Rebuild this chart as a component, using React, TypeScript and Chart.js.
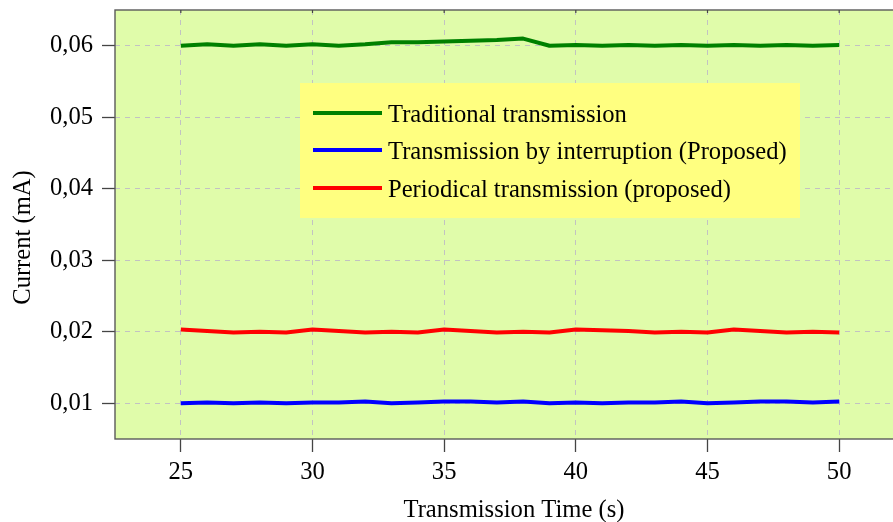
import { useEffect, useRef } from 'react';
import { Chart, registerables } from 'chart.js';

Chart.register(...registerables);

const seconds = [25, 26, 27, 28, 29, 30, 31, 32, 33, 34, 35, 36, 37, 38, 39, 40, 41, 42, 43, 44, 45, 46, 47, 48, 49, 50];
const traditional = [0.06, 0.0602, 0.06, 0.0602, 0.06, 0.0602, 0.06, 0.0602, 0.0605, 0.0605, 0.0606, 0.0607, 0.0608, 0.061, 0.06, 0.0601, 0.06, 0.0601, 0.06, 0.0601, 0.06, 0.0601, 0.06, 0.0601, 0.06, 0.0601];
const interruption = [0.01, 0.01012, 0.01, 0.01012, 0.01, 0.01012, 0.01012, 0.01024, 0.01, 0.01012, 0.01024, 0.01024, 0.01012, 0.01024, 0.01, 0.01012, 0.01, 0.01012, 0.01012, 0.01024, 0.01, 0.01012, 0.01024, 0.01024, 0.01012, 0.01024];
const periodical = [0.0203, 0.0201, 0.0199, 0.02, 0.0199, 0.0203, 0.0201, 0.0199, 0.02, 0.0199, 0.0203, 0.0201, 0.0199, 0.02, 0.0199, 0.0203, 0.0202, 0.0201, 0.0199, 0.02, 0.0199, 0.0203, 0.0201, 0.0199, 0.02, 0.0199];
const seriesLabels = ['Traditional transmission', 'Transmission by interruption (Proposed)', 'Periodical transmission (proposed)'];
const xTickValues = [25, 30, 35, 40, 45, 50];
const yTickValues = [0.01, 0.02, 0.03, 0.04, 0.05, 0.06];
const xTitle = 'Transmission Time (s)';
const yTitle = 'Current (mA)';

const FONT = "'Liberation Serif', 'Times New Roman', serif";
const FS = 24.6;

const toPoints = (ys: number[]) => seconds.map((x, i) => ({ x, y: ys[i] }));

const decorPlugin = {
  id: 'decor',
  beforeDraw(chart: any) {
    const { ctx, chartArea: ca } = chart;
    ctx.save();
    ctx.fillStyle = '#e0fcaa';
    ctx.fillRect(ca.left, ca.top, ca.right - ca.left, ca.bottom - ca.top);
    ctx.restore();
  },
  afterDraw(chart: any) {
    const { ctx, chartArea: ca } = chart;
    const xs = chart.scales.x;
    ctx.save();
    // frame
    ctx.strokeStyle = '#5a5a5a';
    ctx.lineWidth = 1.4;
    ctx.strokeRect(ca.left, ca.top, ca.right - ca.left, ca.bottom - ca.top);
    // small inner ticks on top border
    ctx.lineWidth = 1.2;
    ctx.strokeStyle = '#444';
    xTickValues.forEach((v) => {
      const px = xs.getPixelForValue(v);
      ctx.beginPath();
      ctx.moveTo(px, ca.top);
      ctx.lineTo(px, ca.top + 3);
      ctx.stroke();
    });
    // legend
    const bx = ca.left + 185;
    const by = ca.top + 73;
    ctx.fillStyle = '#ffff80';
    ctx.fillRect(bx, by, 500, 135);
    const rows = [30, 67, 105];
    ctx.font = `${FS}px ${FONT}`;
    ctx.textBaseline = 'middle';
    ctx.textAlign = 'left';
    chart.data.datasets.forEach((ds: any, i: number) => {
      const y = by + rows[i];
      ctx.strokeStyle = ds.borderColor;
      ctx.lineWidth = 4;
      ctx.beginPath();
      ctx.moveTo(bx + 13, y);
      ctx.lineTo(bx + 82, y);
      ctx.stroke();
      ctx.fillStyle = '#000';
      ctx.fillText(ds.label, bx + 88, y + 3);
    });
    // axis titles
    ctx.fillStyle = '#000';
    ctx.textBaseline = 'alphabetic';
    ctx.textAlign = 'center';
    ctx.fillText(xTitle, 514, 517);
    ctx.translate(30, 237.5);
    ctx.rotate(-Math.PI / 2);
    ctx.fillText(yTitle, 0, 0);
    ctx.restore();
  },
};

export default function App() {
  const canvasRef = useRef<HTMLCanvasElement | null>(null);

  useEffect(() => {
    document.body.style.margin = '0';
    document.documentElement.style.overflow = 'hidden';
    if (!canvasRef.current) return;
    const gridCommon = {
      color: '#c2c2c2',
      lineWidth: 1,
      tickLength: 13,
      tickColor: '#444',
      tickWidth: 1.3,
      drawTicks: true,
    };
    const chart = new Chart(canvasRef.current, {
      type: 'line',
      data: {
        datasets: [
          { label: seriesLabels[0], data: toPoints(traditional), borderColor: '#008000', backgroundColor: '#008000' },
          { label: seriesLabels[1], data: toPoints(interruption), borderColor: '#0000ff', backgroundColor: '#0000ff' },
          { label: seriesLabels[2], data: toPoints(periodical), borderColor: '#ff0000', backgroundColor: '#ff0000' },
        ],
      },
      options: {
        animation: false,
        responsive: true,
        maintainAspectRatio: false,
        layout: { padding: { top: 10, right: 15, left: 0, bottom: 0 } },
        elements: {
          line: { borderWidth: 4, tension: 0, borderJoinStyle: 'round' },
          point: { radius: 0, hoverRadius: 0 },
        },
        plugins: {
          legend: { display: false },
          tooltip: { enabled: false },
          title: { display: false },
        },
        scales: {
          x: {
            type: 'linear',
            min: 22.5,
            max: 52.5,
            grid: gridCommon,
            border: { display: false, dash: [5, 5] },
            ticks: {
              color: '#000',
              padding: 6,
              font: { family: FONT, size: FS },
              callback: (v: any) => String(v),
            },
            afterBuildTicks: (scale: any) => {
              scale.ticks = xTickValues.map((v) => ({ value: v }));
            },
            afterFit: (scale: any) => {
              scale.height = 83;
              scale.paddingLeft = 0;
              scale.paddingRight = 0;
            },
          },
          y: {
            type: 'linear',
            min: 0.005,
            max: 0.065,
            grid: gridCommon,
            border: { display: false, dash: [5, 5] },
            ticks: {
              color: '#000',
              padding: 9,
              font: { family: FONT, size: FS },
              callback: (v: any) => Number(v).toFixed(2).replace('.', ','),
            },
            afterBuildTicks: (scale: any) => {
              scale.ticks = yTickValues.map((v) => ({ value: v }));
            },
            afterFit: (scale: any) => {
              scale.width = 115;
              scale.paddingTop = 0;
              scale.paddingBottom = 0;
            },
          },
        },
      } as any,
      plugins: [decorPlugin],
    });
    return () => chart.destroy();
  }, []);

  return (
    <div style={{ width: 893, height: 522, overflow: 'hidden', position: 'relative' }}>
      <div style={{ width: 920, height: 522, position: 'relative' }}>
        <canvas ref={canvasRef} />
      </div>
    </div>
  );
}
